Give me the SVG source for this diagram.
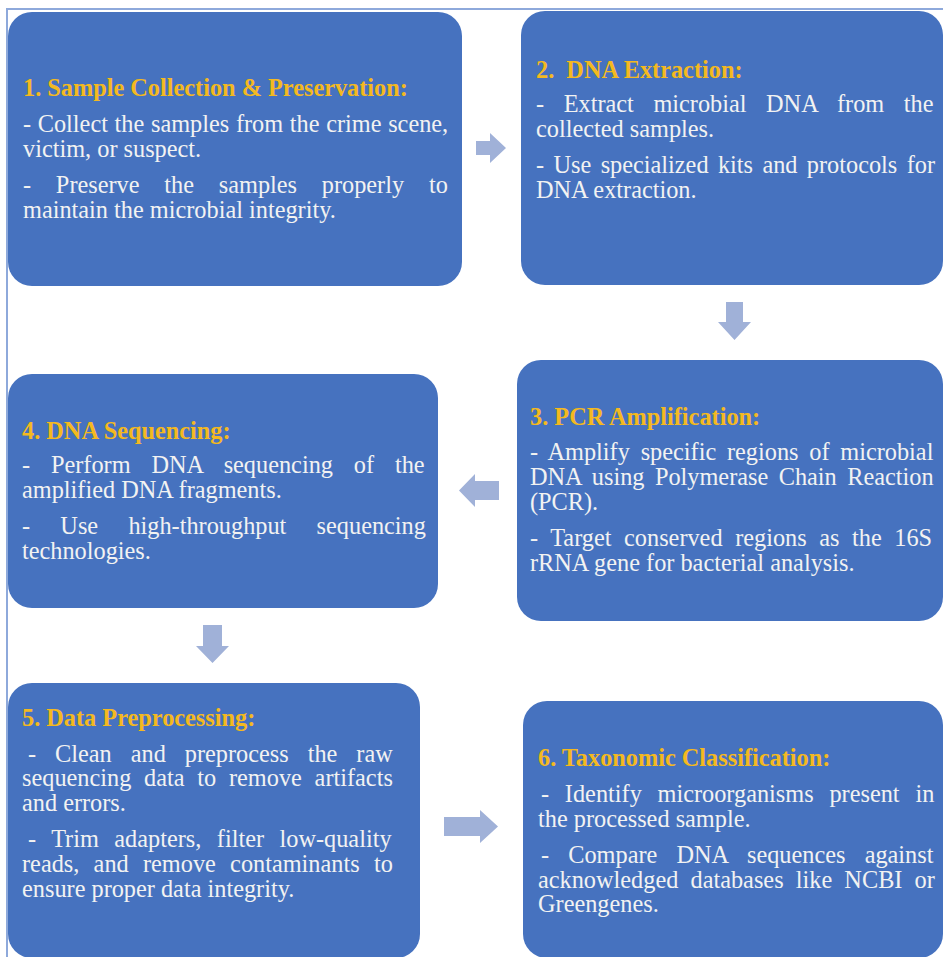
<svg xmlns="http://www.w3.org/2000/svg" width="943" height="957" viewBox="0 0 943 957">
<style>
.box{fill:#4672BF;}
.t{font-family:"Liberation Serif","Times New Roman",serif;font-size:24.3px;font-weight:bold;fill:#F4B920;}
.b{font-family:"Liberation Serif","Times New Roman",serif;font-size:24.3px;fill:#F2F2F2;}
.arr{fill:#A0B1D8;}
.frame{fill:none;stroke:#8EA9DB;stroke-width:2;}
</style>
<rect x="0" y="0" width="943" height="957" fill="#FFFFFF"/>
<polyline class="frame" points="7,957 7,9 943,9"/>

<g id="node1">
<rect class="box" x="8" y="12" width="454" height="274" rx="24"/>
<text class="t" x="23" y="96">1. Sample Collection &amp; Preservation:</text>
<text class="b" x="23" y="132" word-spacing="0.6">- Collect the samples from the crime scene,</text>
<text class="b" x="23" y="157">victim, or suspect.</text>
<text class="b" x="23" y="193" word-spacing="18.7">- Preserve the samples properly to</text>
<text class="b" x="23" y="218">maintain the microbial integrity.</text>
</g>

<g id="node2">
<rect class="box" x="521" y="11" width="422" height="274" rx="24"/>
<text class="t" x="536" y="78" xml:space="preserve">2.  DNA Extraction:</text>
<text class="b" x="536" y="112" word-spacing="13.5">- Extract microbial DNA from the</text>
<text class="b" x="536" y="137">collected samples.</text>
<text class="b" x="536" y="173" word-spacing="3.3">- Use specialized kits and protocols for</text>
<text class="b" x="536" y="198">DNA extraction.</text>
</g>

<g id="node3">
<rect class="box" x="517" y="360" width="426" height="261" rx="24"/>
<text class="t" x="530" y="425">3. PCR Amplification:</text>
<text class="b" x="530" y="460" word-spacing="4.7">- Amplify specific regions of microbial</text>
<text class="b" x="530" y="485" word-spacing="4.4">DNA using Polymerase Chain Reaction</text>
<text class="b" x="530" y="510">(PCR).</text>
<text class="b" x="530" y="546" word-spacing="6.5">- Target conserved regions as the 16S</text>
<text class="b" x="530" y="571">rRNA gene for bacterial analysis.</text>
</g>

<g id="node4">
<rect class="box" x="8" y="374" width="430" height="234" rx="24"/>
<text class="t" x="22" y="439">4. DNA Sequencing:</text>
<text class="b" x="22" y="473" word-spacing="14.8">- Perform DNA sequencing of the</text>
<text class="b" x="22" y="498">amplified DNA fragments.</text>
<text class="b" x="22" y="534" word-spacing="24.2">- Use high-throughput sequencing</text>
<text class="b" x="22" y="559">technologies.</text>
</g>

<g id="node5">
<rect class="box" x="8" y="683" width="412" height="275" rx="24"/>
<text class="t" x="22" y="726">5. Data Preprocessing:</text>
<text class="b" x="28" y="762" word-spacing="12.9">- Clean and preprocess the raw</text>
<text class="b" x="22" y="786" word-spacing="6.7">sequencing data to remove artifacts</text>
<text class="b" x="22" y="811">and errors.</text>
<text class="b" x="28" y="847" word-spacing="9.4">- Trim adapters, filter low-quality</text>
<text class="b" x="22" y="872" word-spacing="8.2">reads, and remove contaminants to</text>
<text class="b" x="22" y="897">ensure proper data integrity.</text>
</g>

<g id="node6">
<rect class="box" x="523" y="701" width="420" height="257" rx="24"/>
<text class="t" x="538" y="766">6. Taxonomic Classification:</text>
<text class="b" x="541" y="802" word-spacing="9.7">- Identify microorganisms present in</text>
<text class="b" x="538" y="827">the processed sample.</text>
<text class="b" x="541" y="863" word-spacing="13.1">- Compare DNA sequences against</text>
<text class="b" x="538" y="888" word-spacing="6.1">acknowledged databases like NCBI or</text>
<text class="b" x="538" y="912">Greengenes.</text>
</g>

<g id="connectors">
<polygon class="arr" points="476,141 490,141 490,133 506,148 490,163 490,155 476,155"/>
<polygon class="arr" points="726,302 743,302 743,322 751,322 734.5,340 718,322 726,322"/>
<polygon class="arr" points="499,481 475,481 475,474 459,490.5 475,507 475,500 499,500"/>
<polygon class="arr" points="203,625 222,625 222,646 229,646 212.5,663 196,646 203,646"/>
<polygon class="arr" points="444,817 480,817 480,810 498,826.5 480,843 480,836 444,836"/>
</g>
</svg>
